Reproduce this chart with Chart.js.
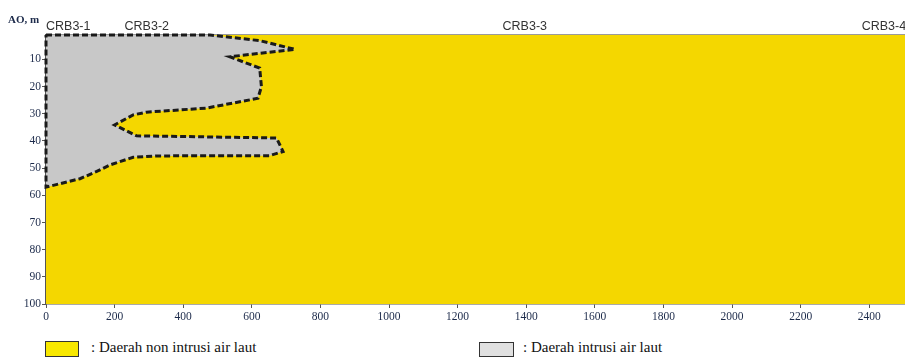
<!DOCTYPE html>
<html>
<head>
<meta charset="utf-8">
<script src="https://cdn.jsdelivr.net/npm/chart.js@4.4.1/dist/chart.umd.min.js"></script>
<style>
  html, body { margin: 0; padding: 0; overflow: hidden; background: #fff; }
  #wrap { position: relative; width: 960px; height: 359px; }
  #wrap canvas { position: absolute; left: 0; top: 0; }
  .ytitle { position: absolute; left: 8px; top: 13px; font: bold 11px 'Liberation Serif', serif; color: #1c2a4a; }
  .lg-box { position: absolute; box-sizing: border-box; border: 1px solid #333; }
  .lg-text { position: absolute; font: 15px 'Liberation Serif', serif; color: #111; white-space: nowrap; }
</style>
</head>
<body>
<div id="wrap">
  <canvas id="section" width="960" height="330"></canvas>
  <div class="ytitle">AO, m</div>
  <div class="lg-box" style="left:45px;top:341px;width:34px;height:16px;background:#f8e800"></div>
  <div class="lg-text" style="left:91px;top:339px">: Daerah non intrusi air laut</div>
  <div class="lg-box" style="left:479px;top:342px;width:35px;height:15px;background:#e0e0e0"></div>
  <div class="lg-text" style="left:523px;top:339px">: Daerah intrusi air laut</div>
</div>
<script>
// ── Section data ─────────────────────────────────────────
const stationNames = ['CRB3-1', 'CRB3-2', 'CRB3-3', 'CRB3-4'];
const stationDist  = [0, 229, 1331, 2378];

const distTicks  = [0, 200, 400, 600, 800, 1000, 1200, 1400, 1600, 1800, 2000, 2200, 2400];
const depthTicks = [10, 20, 30, 40, 50, 60, 70, 80, 90, 100];

const sectionLength = 2650;  // section continues past the picture edge
const depthTop = 1;
const depthBottom = 100;

// boundary of the sea water intrusion zone (distance m, depth m)
const intrusiDepth = [1, 3.1, 6.3, 9.0, 13.2, 20.0, 24.3, 27.9, 29.4, 30.4, 34.1, 38.1, 38.9, 43.9, 45.4, 45.5, 46.0, 48.8, 51.2, 53.9, 57.0];
const intrusiDist  = [478, 624, 726, 536, 623, 628, 618, 468, 293, 254, 200, 264, 672, 691, 652, 322, 254, 187, 148, 99, 0];

const YELLOW = '#f4d700';
const GRAY = '#c8c8c8';

const boundary = intrusiDepth.map((d, i) => ({ x: intrusiDist[i], y: d }));
const outline = [{ x: 0, y: depthTop }, ...boundary, { x: 0, y: depthTop }];
const nonIntrusi = [{ x: sectionLength, y: depthTop }, { x: sectionLength, y: depthBottom }];

const serif = "'Liberation Serif', 'Times New Roman', serif";

new Chart(document.getElementById('section'), {
  type: 'line',
  data: {
    datasets: [
      {
        label: 'outline',
        data: outline,
        borderColor: '#1a1a1a',
        borderWidth: 3,
        borderDash: [6, 3],
        pointRadius: 0,
        fill: false,
        tension: 0,
        clip: false,
        order: 0,
      },
      {
        label: 'Daerah intrusi air laut',
        data: boundary,
        borderWidth: 0,
        backgroundColor: GRAY,
        pointRadius: 0,
        fill: { value: 0 },
        tension: 0,
        order: 1,
      },
      {
        label: 'Daerah non intrusi air laut',
        data: nonIntrusi,
        borderWidth: 0,
        backgroundColor: YELLOW,
        pointRadius: 0,
        fill: { value: 0 },
        order: 2,
      },
    ],
  },
  options: {
    indexAxis: 'y',
    responsive: false,
    animation: false,
    layout: { padding: { left: 0, right: 5, top: 0, bottom: 0 } },
    plugins: { legend: { display: false }, tooltip: { enabled: false } },
    scales: {
      x: {
        type: 'linear',
        position: 'bottom',
        min: 0,
        max: sectionLength,
        z: 1,
        afterBuildTicks: s => { s.ticks = distTicks.map(v => ({ value: v })); },
        afterFit: s => { s.height = 26; },
        border: { color: '#555', width: 1.5 },
        grid: { drawOnChartArea: false, tickLength: 4, color: '#555' },
        ticks: {
          color: '#1c2a4a', padding: 2, maxRotation: 0, autoSkip: false,
          font: { family: serif, size: 11.5 },
          callback: v => String(v),
        },
      },
      xTop: {
        type: 'linear',
        position: 'top',
        min: 0,
        max: sectionLength,
        afterBuildTicks: s => { s.ticks = stationDist.map(v => ({ value: v })); },
        afterFit: s => { s.height = 35; },
        border: { color: '#9a9a9a', width: 1.5 },
        grid: { display: false, drawTicks: false },
        ticks: {
          align: 'start',
          padding: 1,
          color: '#333',
          maxRotation: 0,
          autoSkip: false,
          font: { family: "'Liberation Sans', Arial, sans-serif", size: 12.5 },
          callback: v => stationNames[stationDist.indexOf(v)],
        },
      },
      y: {
        type: 'linear',
        position: 'left',
        reverse: true,
        min: depthTop,
        max: depthBottom,
        z: 1,
        afterBuildTicks: s => { s.ticks = depthTicks.map(v => ({ value: v })); },
        afterFit: s => { s.width = 46; },
        border: { color: '#555', width: 1.5 },
        grid: { drawOnChartArea: false, tickLength: 4, color: '#555' },
        ticks: { color: '#1c2a4a', padding: 1, font: { family: serif, size: 11.5 } },
      },
    },
  },
});
</script>
</body>
</html>
